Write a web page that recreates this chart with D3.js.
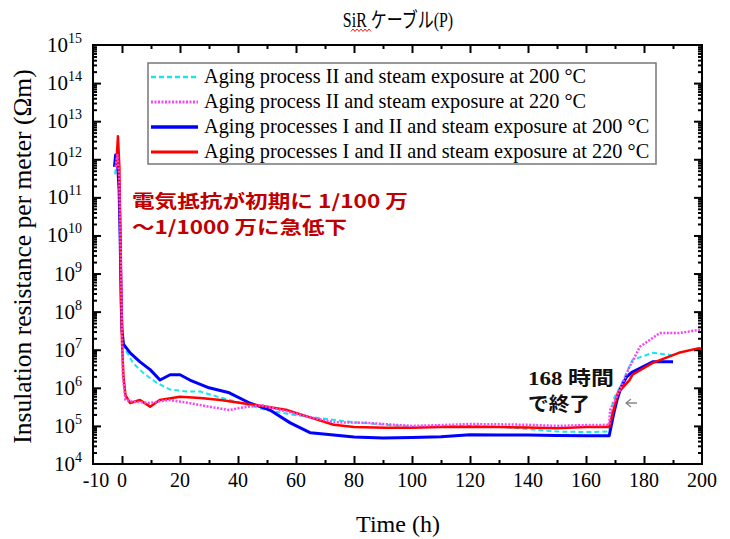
<!DOCTYPE html>
<html>
<head>
<meta charset="utf-8">
<script src="https://cdn.jsdelivr.net/npm/d3@7"></script>
<style>
  body { margin: 0; background: #fff; }
  svg { display: block; }
</style>
</head>
<body>
<svg id="chart"></svg>
<script>
// Series data: [time (h), resistance (Ωm)]
const cyan200 = [
  [-2.4, 4e11], [-1.8, 1e12], [-1.2, 3.2e11], [-0.6, 1e10], [-0.2, 1.6e8], [0.3, 1.3e7],
  [3.8, 4.5e6], [7.2, 2.5e6], [12, 1.35e6], [16.6, 9e5], [22.4, 8e5], [27, 8e5],
  [33, 5.8e5], [41, 4e5], [50, 2.6e5], [59, 1.95e5], [68, 1.6e5], [80, 1.25e5],
  [91, 1.07e5], [100, 9.5e4], [110, 9.8e4], [120, 1e5], [130, 9.5e4], [140, 8.3e4],
  [150, 7.1e4], [160, 6.9e4], [168, 7.1e4], [169.3, 4.8e5], [171.7, 1.05e6],
  [176, 5.4e6], [183, 8.3e6], [190, 7.2e6]
];
const magenta220 = [
  [-2.2, 6.3e11], [-1.6, 1.3e12], [-1.0, 4e11], [-0.4, 3.2e9], [0, 3.2e7], [0.3, 2e6],
  [1.2, 4.8e5], [3.8, 4.3e5], [9.7, 4e5], [16, 4.8e5], [23, 4e5], [30, 3.2e5],
  [37, 2.6e5], [41, 3e5], [48, 3.5e5], [55, 2.6e5], [64, 1.75e5], [73, 1.25e5],
  [85, 1.2e5], [94, 1.07e5], [100, 1e5], [110, 1.05e5], [120, 1.12e5], [130, 1.1e5],
  [140, 1.07e5], [150, 1e5], [160, 1.05e5], [168, 1.07e5], [168.3, 2.6e5],
  [171.7, 9e5], [175, 3.5e6], [178.6, 1.2e7], [185.5, 2.75e7], [192, 2.75e7],
  [199, 3.3e7], [200, 3.3e7]
];
const blue200 = [
  [-2.6, 6.3e11], [-2.2, 1.3e12], [-1.6, 1e12], [-1.0, 1.6e11], [-0.6, 6.3e9],
  [-0.3, 2e8], [0, 3.2e7], [0.5, 1.4e7], [2.8, 8.3e6], [6.2, 4.8e6], [9.7, 3e6],
  [13.1, 1.6e6], [16.6, 2.2e6], [20, 2.2e6], [23.4, 1.6e6], [30, 1e6], [37, 7.4e5],
  [44, 4e5], [51, 2.6e5], [58, 1.2e5], [65, 6.6e4], [73, 5.8e4], [80, 5.1e4],
  [90, 4.8e4], [100, 5e4], [110, 5.2e4], [120, 5.9e4], [130, 5.8e4], [140, 5.8e4],
  [150, 5.6e4], [160, 5.5e4], [168, 5.5e4], [169.5, 2e5], [170.7, 4.8e5], [172, 1e6],
  [174, 1.95e6], [176, 2.6e6], [183, 4.8e6], [190, 4.8e6]
];
const red220 = [
  [-2.0, 6.3e11], [-1.4, 4e12], [-0.9, 6.3e11], [-0.5, 3.2e9], [0, 1.6e7], [0.5, 2e6],
  [1.2, 6.3e5], [2.8, 4e5], [6.2, 4.8e5], [9.7, 3.2e5], [13, 4.8e5], [20, 5.8e5],
  [27, 5.4e5], [34, 4.8e5], [41, 4e5], [50, 3.2e5], [57, 2.6e5], [64, 1.75e5],
  [73, 1.07e5], [80, 9.3e4], [91, 8.9e4], [100, 8.9e4], [110, 9.3e4], [120, 9.5e4],
  [130, 9.3e4], [140, 9.1e4], [150, 8.7e4], [160, 9.3e4], [168, 9.3e4],
  [169.5, 2.6e5], [171, 7.4e5], [175, 1.6e6], [176, 2.2e6], [183, 4.5e6],
  [192, 8.3e6], [199, 1.1e7], [200, 1e7]
];

const legendLabels = [
  "Aging process II and steam exposure at 200 °C",
  "Aging process II and steam exposure at 220 °C",
  "Aging processes I and II and steam exposure at 200 °C",
  "Aging processes I and II and steam exposure at 220 °C"
];
const xTickLabels = [-10, 0, 20, 40, 60, 80, 100, 120, 140, 160, 180, 200];
const xMinorTicks = [10, 30, 50, 70, 90, 110, 130, 150, 170, 190];
const yExponents = [4, 5, 6, 7, 8, 9, 10, 11, 12, 13, 14, 15];

const width = 730, height = 539;
const plot = { left: 93, right: 702, top: 45, bottom: 464 };
const serif = "'Liberation Serif', 'Times New Roman', serif";
const jp = "'Noto Sans CJK JP', sans-serif";

const svg = d3.select("#chart").attr("width", width).attr("height", height);

const x = d3.scaleLinear().domain([-10, 200]).range([plot.left, plot.right]);
const y = d3.scaleLog().domain([1e4, 1e15]).range([plot.bottom, plot.top]);

// ticks (all inward, mirrored on all four sides)
const xMajor = xTickLabels.filter(d => d > -10 && d < 200);
const yMajor = yExponents.map(e => Math.pow(10, e)).filter(v => v > 1e4 && v < 1e15);
const yMinor = [];
yExponents.slice(0, -1).forEach(e => {
  for (let k = 2; k <= 9; k++) yMinor.push(k * Math.pow(10, e));
});

function tickGroup(axis, transform) {
  svg.append("g")
    .attr("transform", transform)
    .call(axis.tickFormat(""))
    .call(g => g.select(".domain").remove())
    .call(g => g.selectAll("line").attr("stroke", "#000").attr("stroke-width", 2));
}
tickGroup(d3.axisBottom(x).tickValues(xMajor).tickSize(-8), `translate(0,${plot.bottom})`);
tickGroup(d3.axisBottom(x).tickValues(xMinorTicks).tickSize(-4), `translate(0,${plot.bottom})`);
tickGroup(d3.axisTop(x).tickValues(xMajor).tickSize(-8), `translate(0,${plot.top})`);
tickGroup(d3.axisTop(x).tickValues(xMinorTicks).tickSize(-4), `translate(0,${plot.top})`);
tickGroup(d3.axisLeft(y).tickValues(yMajor).tickSize(-8), `translate(${plot.left},0)`);
tickGroup(d3.axisLeft(y).tickValues(yMinor).tickSize(-4), `translate(${plot.left},0)`);
tickGroup(d3.axisRight(y).tickValues(yMajor).tickSize(-8), `translate(${plot.right},0)`);
tickGroup(d3.axisRight(y).tickValues(yMinor).tickSize(-4), `translate(${plot.right},0)`);

// x tick labels
svg.append("g").selectAll("text")
  .data(xTickLabels)
  .join("text")
  .attr("x", d => x(d) + (d === -10 ? 3 : 0))
  .attr("y", plot.bottom + 23)
  .attr("text-anchor", "middle")
  .attr("font-family", serif)
  .attr("font-size", 20)
  .text(d => d);

// y tick labels 10^n
const yLab = svg.append("g").selectAll("text")
  .data(yExponents)
  .join("text")
  .attr("x", 82)
  .attr("y", d => y(Math.pow(10, d)) + 7)
  .attr("text-anchor", "end")
  .attr("font-family", serif)
  .attr("font-size", 21);
yLab.append("tspan").text("10");
yLab.append("tspan").attr("dy", -9).attr("font-size", 14).text(d => d);

// axis titles
svg.append("text")
  .attr("x", 398).attr("y", 532)
  .attr("text-anchor", "middle")
  .attr("font-family", serif).attr("font-size", 24)
  .text("Time (h)");
svg.append("text")
  .attr("transform", `translate(31,${(plot.top + plot.bottom) / 2 + 2}) rotate(-90)`)
  .attr("text-anchor", "middle")
  .attr("font-family", serif).attr("font-size", 25.5)
  .text("Insulation resistance per meter (Ωm)");

// title (condensed, like the original)
const title = svg.append("g")
  .attr("transform", "translate(398,27) scale(0.76,1)")
  .append("text")
  .attr("text-anchor", "middle")
  .attr("font-size", 21);
title.append("tspan").attr("font-family", serif).text("SiR ");
title.append("tspan").attr("font-family", jp).text("ケーブル");
title.append("tspan").attr("font-family", serif).text("(P)");
// spell-check squiggle under "SiR"
const squiggle = d3.range(0, 11).map(i => [351 + i * 2, i % 2 ? 29 : 31.5]);
svg.append("path")
  .attr("d", d3.line()(squiggle))
  .attr("fill", "none").attr("stroke", "#e02020").attr("stroke-width", 1);

// series
const series = [
  { data: cyan200, color: "#19e6f0", width: 2, dash: "5,3" },
  { data: blue200, color: "#0000ff", width: 3, dash: null },
  { data: red220, color: "#ff0000", width: 2.5, dash: null },
  { data: magenta220, color: "#f545f5", width: 2.5, dash: "2,1.5" }
];
const line = d3.line().x(d => x(d[0])).y(d => y(d[1]));
svg.append("clipPath").attr("id", "clip").append("rect")
  .attr("x", plot.left).attr("y", plot.top)
  .attr("width", plot.right - plot.left).attr("height", plot.bottom - plot.top);
svg.append("g").attr("clip-path", "url(#clip)")
  .selectAll("path")
  .data(series)
  .join("path")
  .attr("d", d => line(d.data))
  .attr("fill", "none")
  .attr("stroke", d => d.color)
  .attr("stroke-width", d => d.width)
  .attr("stroke-dasharray", d => d.dash)
  .attr("stroke-linejoin", "round");

// frame
svg.append("rect")
  .attr("x", plot.left).attr("y", plot.top)
  .attr("width", plot.right - plot.left).attr("height", plot.bottom - plot.top)
  .attr("fill", "none").attr("stroke", "#000").attr("stroke-width", 2);

// legend (order as in the picture)
const legendOrder = [series[0], series[3], series[1], series[2]];
const lg = svg.append("g");
lg.append("rect")
  .attr("x", 148).attr("y", 63).attr("width", 508).attr("height", 101)
  .attr("fill", "#fff").attr("stroke", "#777").attr("stroke-width", 1.5);
legendOrder.forEach((s, i) => {
  const yy = 77 + i * 25;
  lg.append("line")
    .attr("x1", 151).attr("x2", 198).attr("y1", yy).attr("y2", yy)
    .attr("stroke", s.color).attr("stroke-width", s.width + 0.5)
    .attr("stroke-dasharray", s.dash);
  lg.append("text")
    .attr("x", 204).attr("y", yy + 6)
    .attr("font-family", serif).attr("font-size", 20.3)
    .text(legendLabels[i]);
});

// annotations
const note = svg.append("g")
  .attr("font-family", jp).attr("font-weight", "bold")
  .attr("font-size", 18).attr("fill", "#c00000");
note.append("text").attr("x", 132).attr("y", 208)
  .attr("textLength", 276).attr("lengthAdjust", "spacingAndGlyphs")
  .text("電気抵抗が初期に 1/100 万");
note.append("text").attr("x", 132).attr("y", 234)
  .attr("textLength", 215).attr("lengthAdjust", "spacingAndGlyphs")
  .text("～1/1000 万に急低下");

const end = svg.append("g").attr("font-weight", "bold")
  .attr("font-size", 19).attr("fill", "#111");
const endLine1 = end.append("text").attr("x", 528).attr("y", 385)
  .attr("textLength", 86).attr("lengthAdjust", "spacingAndGlyphs");
endLine1.append("tspan").attr("font-family", serif).text("168 ");
endLine1.append("tspan").attr("font-family", jp).text("時間");
end.append("text").attr("x", 528).attr("y", 411).attr("font-family", jp)
  .attr("textLength", 62).attr("lengthAdjust", "spacingAndGlyphs")
  .text("で終了");
svg.append("path")
  .attr("d", "M637,403 L626,403 M631,399 L626,403 L631,407")
  .attr("fill", "none").attr("stroke", "#888").attr("stroke-width", 1.3);
</script>
</body>
</html>
